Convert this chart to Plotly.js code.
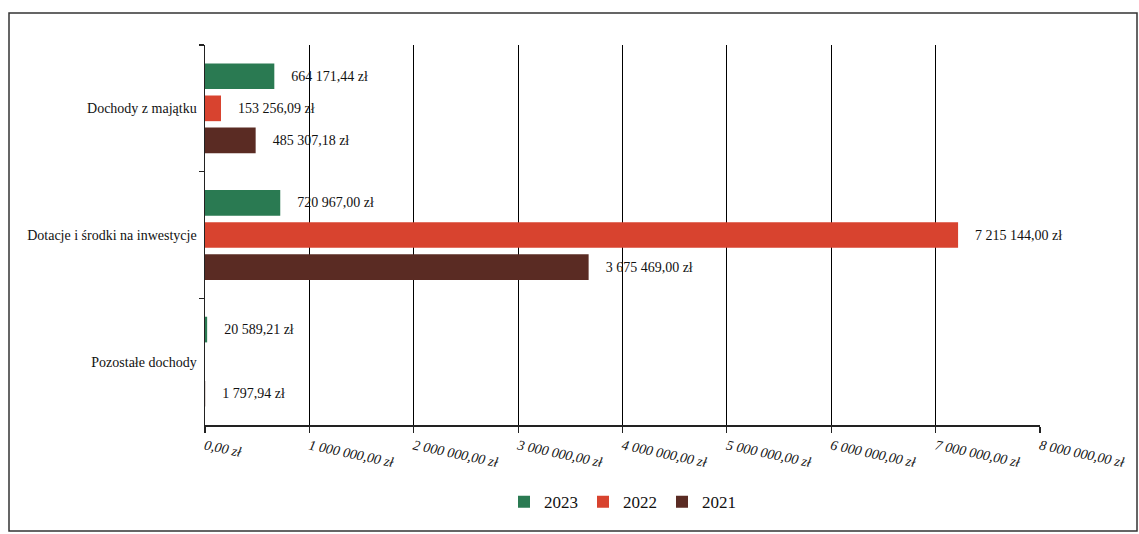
<!DOCTYPE html>
<html>
<head>
<meta charset="utf-8">
<script src="https://cdn.plot.ly/plotly-3.0.1.min.js"></script>
<style>
html,body{margin:0;padding:0;background:#fff;}
#chart{width:1139px;height:534px;}
</style>
</head>
<body>
<div id="chart"></div>
<script>
// ---- data ----
var categories = ["Dochody z majątku", "Dotacje i środki na inwestycje", "Pozostałe dochody"];
var seriesNames = ["2023", "2022", "2021"];
var values2023 = [664171.44, 720967.00, 20589.21];
var values2022 = [153256.09, 7215144.00, null];
var values2021 = [485307.18, 3675469.00, 1797.94];
var xTickValues = [0, 1000000, 2000000, 3000000, 4000000, 5000000, 6000000, 7000000, 8000000];

var colors = ["#2a7a52", "#d8432f", "#5a2b23"];
var serif = "Liberation Serif, Times New Roman, serif";
var seriesValues = [values2023, values2022, values2021];

function plnFormat(v) {
  var parts = v.toFixed(2).split(".");
  var intPart = parts[0].replace(/\B(?=(\d{3})+(?!\d))/g, " ");
  return intPart + "," + parts[1] + " zł";
}

var traces = seriesValues.map(function (vals, i) {
  return {
    type: "bar",
    orientation: "h",
    name: seriesNames[i],
    y: categories,
    x: vals,
    marker: {color: colors[i]},
    text: vals.map(function (v) { return v == null ? "" : "\u00a0\u00a0\u00a0\u00a0" + plnFormat(v); }),
    textposition: "outside",
    constraintext: "none",
    cliponaxis: false,
    textfont: {family: serif, size: 14, color: "#111"},
    hoverinfo: "none"
  };
});

var layout = {
  width: 1139,
  height: 534,
  margin: {l: 205, r: 99, t: 45, b: 109},
  paper_bgcolor: "#ffffff",
  plot_bgcolor: "#ffffff",
  font: {family: serif, size: 14, color: "#111"},
  barmode: "group",
  bargap: 0.24,
  bargroupgap: 0.2,
  showlegend: true,
  legend: {
    orientation: "h",
    x: 0.5, xanchor: "center",
    y: -0.203, yanchor: "middle",
    font: {family: serif, size: 17, color: "#111"},
    traceorder: "normal",
    itemwidth: 30
  },
  xaxis: {
    range: [0, 8000000],
    tickmode: "array",
    tickvals: xTickValues,
    ticktext: xTickValues.map(plnFormat),
    tickangle: 12,
    tickfont: {family: serif, size: 14, style: "italic", color: "#111"},
    showgrid: true,
    gridcolor: "#000",
    gridwidth: 1,
    zeroline: false,
    showline: true,
    linecolor: "#222",
    linewidth: 1.5,
    ticks: "outside",
    ticklen: 6,
    tickcolor: "#222",
    tickwidth: 1.2,
    fixedrange: true
  },
  yaxis: {
    type: "category",
    autorange: "reversed",
    tickson: "boundaries",
    ticks: "outside",
    ticklen: 5,
    tickcolor: "#222",
    tickwidth: 1.2,
    showline: true,
    linecolor: "#222",
    linewidth: 1.5,
    showgrid: false,
    zeroline: false,
    tickfont: {family: serif, size: 14, color: "#111"},
    ticklabelstandoff: 4,
    fixedrange: true
  },
  shapes: [{
    type: "rect",
    xref: "paper", yref: "paper",
    x0: (9 - 205) / 835, x1: (1137 - 205) / 835,
    y0: (425 - 531) / 380, y1: (425 - 13) / 380,
    line: {color: "#333", width: 1.5},
    fillcolor: "rgba(0,0,0,0)",
    layer: "below"
  }]
};

Plotly.newPlot("chart", traces, layout, {displayModeBar: false, staticPlot: true});
</script>
</body>
</html>
